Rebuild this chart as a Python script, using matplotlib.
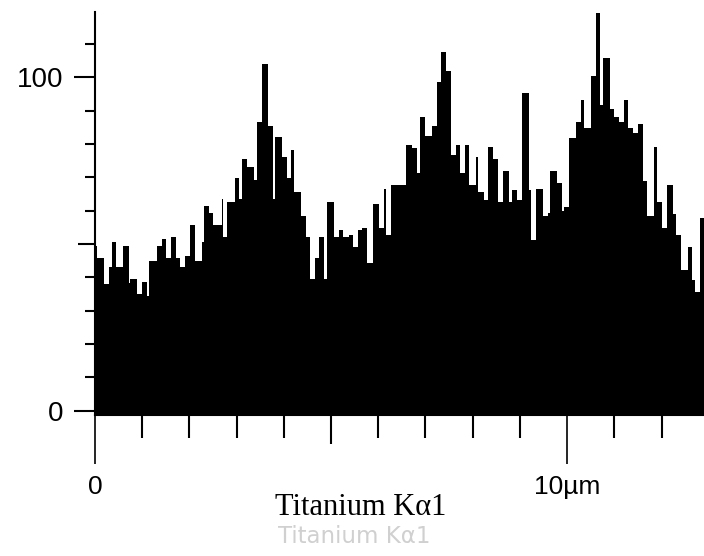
import matplotlib
matplotlib.use("Agg")
import matplotlib.pyplot as plt

# Line scan profile, Titanium K-alpha1 counts along the scan (step edges in um)
edges = [0, 0.04, 0.20, 0.30, 0.35, 0.44, 0.60, 0.71, 0.75, 0.90,
         1.00, 1.10, 1.14, 1.31, 1.41, 1.50, 1.60, 1.71, 1.81, 1.91,
         2.01, 2.11, 2.26, 2.31, 2.42, 2.51, 2.68, 2.71, 2.80, 2.96,
         3.05, 3.12, 3.21, 3.37, 3.43, 3.53, 3.66, 3.76, 3.81, 3.97,
         4.06, 4.16, 4.21, 4.36, 4.46, 4.56, 4.66, 4.75, 4.85, 4.91,
         5.06, 5.17, 5.26, 5.37, 5.46, 5.57, 5.66, 5.77, 5.88, 6.02,
         6.12, 6.17, 6.27, 6.58, 6.72, 6.83, 6.89, 6.98, 7.13, 7.24,
         7.32, 7.44, 7.54, 7.64, 7.73, 7.84, 7.92, 8.07, 8.12, 8.23,
         8.33, 8.44, 8.53, 8.64, 8.78, 8.83, 8.93, 9.04, 9.19, 9.24,
         9.34, 9.49, 9.59, 9.64, 9.78, 9.89, 9.94, 10.05, 10.19, 10.30,
         10.35, 10.51, 10.61, 10.70, 10.75, 10.90, 11.00, 11.10, 11.20, 11.30,
         11.40, 11.50, 11.60, 11.70, 11.85, 11.90, 12.01, 12.11, 12.25, 12.30,
         12.41, 12.56, 12.65, 12.71, 12.82, 12.95]

counts = [49.4, 45.7, 38, 43, 50.6, 43, 49.3, 38.4, 39.4, 35,
          38.5, 34.4, 45, 49.3, 51.4, 45.7, 52.2, 45.7, 43, 46.4,
          55.7, 45, 50.6, 61.4, 59.2, 55.7, 63.4, 52.2, 62.7, 69.7,
          63.4, 75.4, 73.2, 69.2, 86.7, 103.9, 85.4, 63.4, 82, 76.2,
          69.7, 78.2, 65.7, 58.5, 52.2, 39.4, 45.7, 52, 39.4, 62.7,
          52, 54.2, 52, 52.7, 49.2, 54.2, 54.7, 44.2, 62, 54.9,
          66.4, 52.7, 67.7, 79.7, 78.7, 71.2, 88.2, 82.5, 85.4, 98.7,
          107.5, 102, 76.7, 79.7, 71.2, 79.7, 67.7, 76.2, 65.7, 63.2,
          79, 75.4, 62.7, 71.9, 62.7, 66.2, 63.2, 95.4, 66.2, 51.2,
          66.4, 58.4, 59.2, 71.9, 68.2, 60, 61.2, 81.9, 86.7, 93.2,
          84.9, 100.4, 119.4, 91.7, 105.9, 90.4, 88.2, 86.7, 93.2, 84.7,
          83.2, 86, 69, 58.4, 79.2, 62.7, 54.7, 67.7, 59, 52.7,
          42.2, 49.2, 39.2, 35.7, 57.7]

y_ticks = [0, 100]
y_minor = [10, 20, 30, 40, 50, 60, 70, 80, 90, 110]
x_ticks = [0, 10]
x_tick_labels = ["0", "10\u00b5m"]
x_minor = [1, 2, 3, 4, 5, 6, 7, 8, 9, 11, 12]
title = "Titanium K\u03b11"

y_bottom, y_top = -1.3, 119.6

fig = plt.figure(figsize=(7.04, 5.56), dpi=100)
ax = fig.add_axes([95 / 704, 141 / 556, 609 / 704, 403 / 556])

ax.stairs(counts, edges, fill=True, color="black", baseline=y_bottom)

ax.set_xlim(0, 12.9)
ax.set_ylim(y_bottom, y_top)

for side in ["top", "right"]:
    ax.spines[side].set_visible(False)
ax.spines["left"].set_linewidth(1.5)
ax.spines["bottom"].set_linewidth(1.5)

ax.set_yticks(y_ticks)
ax.set_yticks(y_minor, minor=True)
ax.set_yticklabels([str(v) for v in y_ticks], fontsize=20, family="Liberation Sans")
ax.tick_params(axis="y", which="major", length=15, width=1.5, pad=8)
ax.tick_params(axis="y", which="minor", length=7, width=1.5)

ax.set_xticks(x_ticks)
ax.set_xticks(x_minor, minor=True)
ax.set_xticklabels(x_tick_labels, fontsize=19, family="Liberation Sans")
ax.tick_params(axis="x", which="major", length=35, width=1.2, pad=8)
ax.tick_params(axis="x", which="minor", length=16.5, width=1.5)

# the half-way ticks (5 um and 50 counts) are a bit longer
ax.xaxis.get_minor_ticks()[x_minor.index(5)].tick1line.set_markersize(21)
ax.yaxis.get_minor_ticks()[y_minor.index(50)].tick1line.set_markersize(12)

fig.text(360.5 / 704, 41 / 556, title, ha="center", va="baseline",
         fontsize=22, family="Liberation Serif", color="black")
fig.text(354 / 704, 13 / 556, title, ha="center", va="baseline",
         fontsize=16.5, family="DejaVu Sans", color="#d0d0d0")

fig.savefig("out.png", dpi=100, facecolor="white")
